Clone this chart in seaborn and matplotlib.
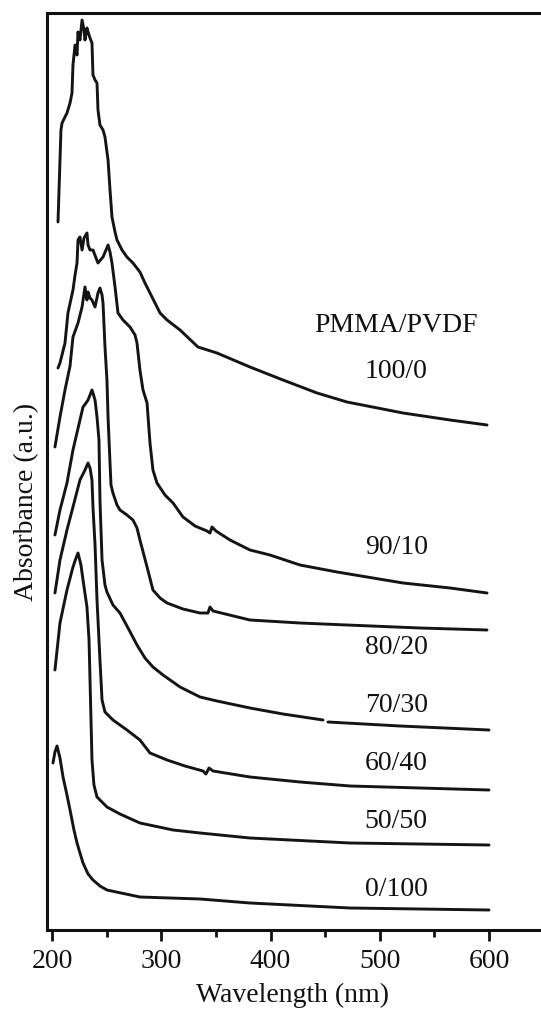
import numpy as np
import pandas as pd
import matplotlib
matplotlib.use("Agg")
import matplotlib.pyplot as plt
import seaborn as sns
from matplotlib.ticker import MultipleLocator

sns.set_theme(style="ticks")
plt.rcParams['font.family'] = ['Liberation Serif', 'DejaVu Serif']

# ---------------- data ----------------
blends = ["100/0", "90/10", "80/20", "70/30", "60/40", "50/50", "0/100"]

wl_100_0 = [205.5, 208.2, 209.2, 213.7, 216.5, 218.3, 219.2, 221.1, 222.9, 223.8, 225.6, 227.5,
            229.3, 230.2, 232.0, 233.0, 234.8, 236.6, 237.5, 239.4, 241.2, 242.1, 243.9, 246.7,
            248.5, 251.3, 253.1, 254.9, 257.7, 259.5, 264.1, 268.6, 274.1, 280.5, 285.1, 289.7,
            298.9, 305.3, 317.2, 333.6, 351.0, 381.2, 411.4, 442.6, 470.0, 521.3, 564.3, 598.2]
abs_100_0 = [7.08, 8.00, 8.07, 8.17, 8.27, 8.37, 8.65, 8.85, 8.75, 8.98, 8.90, 9.10,
             9.00, 8.90, 9.02, 8.98, 8.92, 8.87, 8.55, 8.50, 8.47, 8.20, 8.05, 8.00,
             7.93, 7.70, 7.40, 7.13, 6.98, 6.90, 6.80, 6.73, 6.67, 6.58, 6.47, 6.37,
             6.17, 6.10, 6.00, 5.83, 5.77, 5.63, 5.50, 5.37, 5.28, 5.17, 5.10, 5.05]

wl_90_10 = [205.5, 207.3, 211.9, 214.6, 219.2, 221.1, 222.9, 223.8, 225.6, 227.5, 229.3, 232.0,
            233.0, 234.8, 237.5, 240.3, 242.1, 246.7, 249.4, 251.3, 253.1, 254.9, 257.7, 260.4,
            265.0, 271.4, 276.0, 277.8, 280.5, 283.3, 287.0, 289.7, 292.4, 296.1, 303.4, 310.8,
            319.9, 330.9, 341.9, 344.6, 346.5, 350.1, 362.9, 381.2, 399.5, 427.0, 460.9, 521.3,
            564.3, 598.2]
abs_90_10 = [5.62, 5.67, 5.87, 6.17, 6.40, 6.55, 6.67, 6.90, 6.93, 6.80, 6.92, 6.97,
             6.85, 6.80, 6.80, 6.72, 6.67, 6.73, 6.80, 6.85, 6.78, 6.67, 6.43, 6.17,
             6.10, 6.03, 5.95, 5.87, 5.60, 5.40, 5.27, 4.87, 4.60, 4.47, 4.35, 4.27,
             4.13, 4.04, 3.99, 3.97, 4.03, 3.99, 3.90, 3.80, 3.75, 3.65, 3.58, 3.47,
             3.42, 3.37]

wl_80_20 = [202.7, 207.3, 211.9, 216.5, 219.2, 223.8, 227.5, 230.2, 232.0, 233.0, 234.8, 236.6,
            239.4, 242.1, 243.9, 245.8, 246.7, 248.5, 250.3, 251.3, 253.1, 254.0, 255.8, 259.5,
            262.2, 268.6, 274.1, 277.8, 280.5, 287.0, 292.4, 298.9, 305.3, 319.9, 335.5, 342.8,
            344.6, 347.4, 381.2, 427.0, 470.0, 536.8, 598.2]
abs_80_20 = [4.83, 5.13, 5.40, 5.64, 5.93, 6.07, 6.23, 6.43, 6.30, 6.38, 6.32, 6.30,
             6.23, 6.37, 6.42, 6.35, 6.27, 5.83, 5.50, 5.13, 4.67, 4.45, 4.37, 4.25,
             4.20, 4.15, 4.10, 4.02, 3.90, 3.63, 3.40, 3.32, 3.27, 3.21, 3.17, 3.17,
             3.23, 3.19, 3.10, 3.07, 3.05, 3.02, 3.00]

# the 70/30 trace has a short break near 450 nm (NaN marks the gap)
wl_70_30 = [202.7, 207.3, 213.7, 219.2, 225.6, 228.4, 231.1, 233.0, 234.8, 236.6, 239.4, 241.2,
            243.0, 243.9, 245.8, 248.5, 250.3, 255.8, 262.2, 269.6, 277.8, 285.1, 292.4, 301.6,
            317.2, 335.5, 351.0, 381.2, 411.4, 448.1, np.nan, 452.6, 518.5, 600.0]
abs_70_30 = [3.95, 4.20, 4.47, 4.80, 5.10, 5.23, 5.27, 5.30, 5.35, 5.40, 5.30, 5.13,
             4.90, 4.30, 3.70, 3.45, 3.38, 3.25, 3.17, 3.02, 2.85, 2.72, 2.63, 2.55,
             2.43, 2.33, 2.29, 2.22, 2.16, 2.10, np.nan, 2.08, 2.04, 2.00]

wl_60_40 = [202.7, 207.3, 213.7, 219.2, 225.6, 230.2, 233.0, 234.8, 236.6, 237.5, 239.4, 241.2,
            243.9, 245.8, 248.5, 255.8, 268.6, 280.5, 289.7, 305.3, 321.7, 338.2, 340.9, 343.7,
            347.4, 381.2, 427.0, 472.8, 536.8, 600.0]
abs_60_40 = [3.37, 3.70, 4.00, 4.23, 4.50, 4.60, 4.67, 4.62, 4.50, 4.23, 3.85, 3.30,
             2.70, 2.30, 2.18, 2.10, 2.00, 1.90, 1.77, 1.70, 1.64, 1.59, 1.56, 1.62,
             1.59, 1.53, 1.48, 1.44, 1.42, 1.40]

wl_50_50 = [202.7, 207.3, 213.7, 219.2, 222.0, 223.8, 226.5, 228.4, 232.0, 233.9, 234.8, 235.7,
            236.6, 238.4, 241.2, 250.3, 262.2, 280.5, 310.8, 335.5, 381.2, 472.8, 600.0]
abs_50_50 = [2.60, 3.07, 3.40, 3.63, 3.72, 3.77, 3.65, 3.50, 3.23, 2.90, 2.50, 2.10,
             1.70, 1.45, 1.33, 1.23, 1.16, 1.07, 1.00, 0.97, 0.92, 0.87, 0.85]

wl_0_100 = [200.9, 202.7, 204.6, 207.3, 210.1, 213.7, 216.5, 220.1, 222.9, 225.6, 228.4, 233.0,
            237.5, 243.9, 250.3, 280.5, 335.5, 381.2, 472.8, 600.0]
abs_0_100 = [1.67, 1.78, 1.84, 1.72, 1.53, 1.35, 1.20, 1.00, 0.87, 0.77, 0.67, 0.56,
             0.50, 0.44, 0.40, 0.33, 0.31, 0.27, 0.22, 0.20]

series_wl = [wl_100_0, wl_90_10, wl_80_20, wl_70_30, wl_60_40, wl_50_50, wl_0_100]
series_abs = [abs_100_0, abs_90_10, abs_80_20, abs_70_30, abs_60_40, abs_50_50, abs_0_100]

x_ticks = [200, 300, 400, 500, 600]
legend_title = "PMMA/PVDF"

# ---------------- build tidy frame ----------------
frames = []
for name, w, a in zip(blends, series_wl, series_abs):
    d = pd.DataFrame({"wl": w, "A": a})
    seg = d["wl"].isna().cumsum()
    d["unit"] = [f"{name}-{s}" for s in seg]
    d["blend"] = name
    frames.append(d.dropna())
df = pd.concat(frames, ignore_index=True)

# ---------------- figure ----------------
W, H = 541, 1010
fig = plt.figure(figsize=(W / 100, H / 100), dpi=100)
ax_left, ax_right, ax_top, ax_bot = 47, 560, 13, 930
ax = fig.add_axes([ax_left / W, 1 - ax_bot / H, (ax_right - ax_left) / W, (ax_bot - ax_top) / H])

sns.lineplot(data=df, x="wl", y="A", units="unit", estimator=None, sort=False,
             color="#141414", linewidth=2.1, ax=ax, legend=False)

px_per_nm = 1.0925
x0 = 200 - (52 - ax_left) / px_per_nm
x1 = x0 + (ax_right - ax_left) / px_per_nm
ax.set_xlim(x0, x1)
ax.set_ylim(0, (ax_bot - ax_top) / 100)

ax.set_xticks(x_ticks)
ax.xaxis.set_minor_locator(MultipleLocator(50))
ax.set_yticks([])
ax.tick_params(axis="x", which="major", direction="out", length=8, width=2,
               labelsize=20, pad=6, colors="#111111")
ax.tick_params(axis="x", which="minor", direction="out", length=5, width=2, colors="#111111")

for s in ["left", "top", "bottom"]:
    ax.spines[s].set_linewidth(2.2)
    ax.spines[s].set_color("#111111")
ax.spines["right"].set_visible(False)

ax.set_xlabel("Wavelength (nm)", fontsize=20, color="#111111")
ax.xaxis.set_label_coords((292 - ax_left) / (ax_right - ax_left), (ax_bot - 995) / (ax_bot - ax_top))
ax.xaxis.label.set_va("center")
ax.set_ylabel("Absorbance (a.u.)", fontsize=20, color="#111111")
ax.yaxis.set_label_coords((27 - ax_left) / (ax_right - ax_left), (ax_bot - 502) / (ax_bot - ax_top))
ax.yaxis.label.set_va("center")

label_x = 515
label_y = [5.58, 3.82, 2.82, 2.25, 1.67, 1.08, 0.41]
ax.text(label_x, 6.04, legend_title, ha="center", va="center", fontsize=20, color="#111111")
for name, yy in zip(blends, label_y):
    ax.text(label_x, yy, name, ha="center", va="center", fontsize=20, color="#111111")

fig.savefig("out.png", dpi=100, facecolor="white")
